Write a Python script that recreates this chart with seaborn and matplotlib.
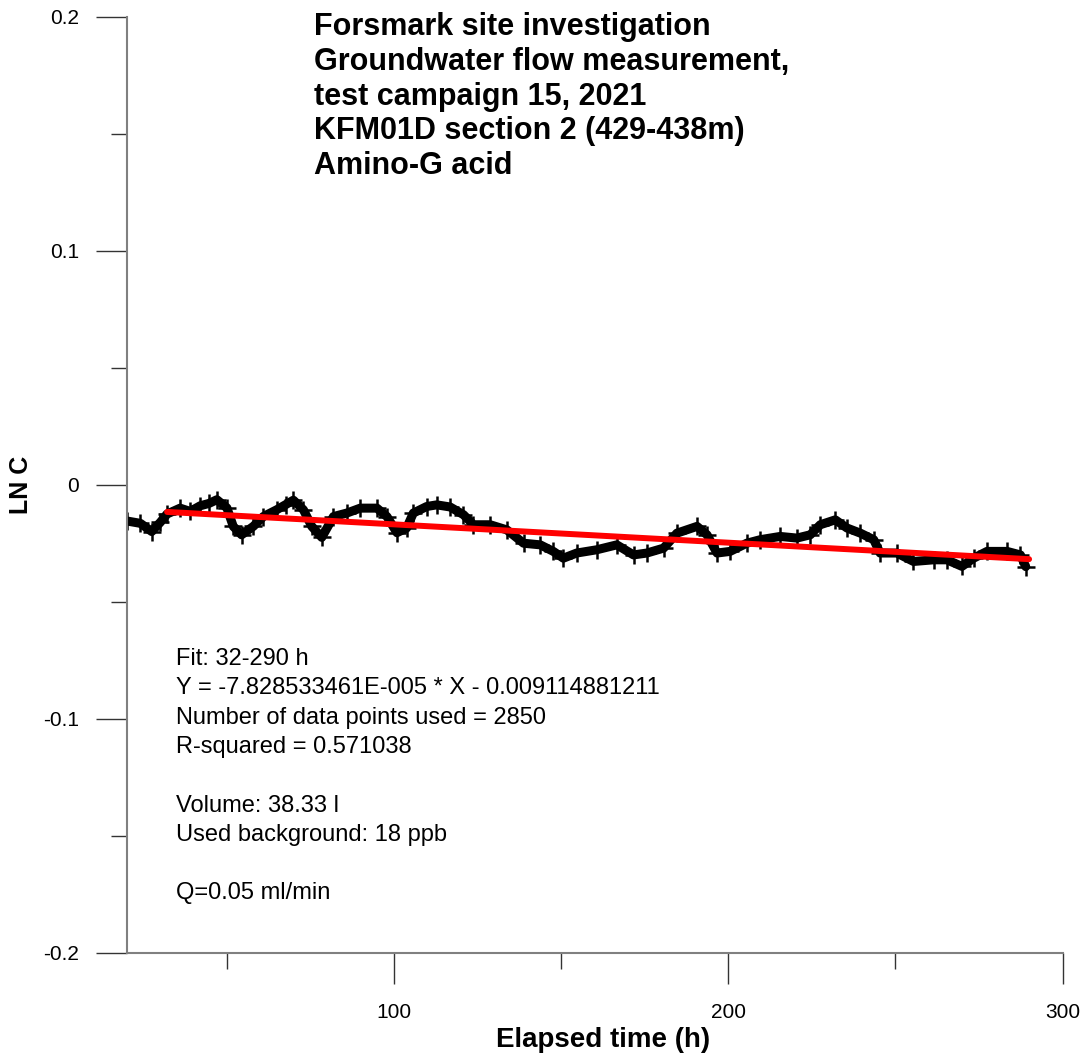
import matplotlib
matplotlib.use("Agg")
import matplotlib.pyplot as plt
import seaborn as sns
import numpy as np
import pandas as pd

# ---- data ----
hours = [20.0, 24.0, 27.4, 30.0, 32.0, 35.9, 38.9, 41.9, 44.5, 46.9, 49.9,
         51.8, 54.3, 57.8, 60.8, 64.8, 67.5, 69.8, 72.8, 75.3, 78.3, 81.8,
         85.8, 89.8, 94.8, 97.8, 100.8, 103.7, 105.7, 109.7, 112.7, 116.7,
         120.7, 123.7, 128.7, 133.7, 138.7, 143.7, 147.6, 150.6, 154.6,
         160.6, 166.6, 171.6, 175.6, 180.6, 184.6, 190.6, 193.6, 196.6,
         200.5, 205.5, 209.5, 215.5, 220.5, 224.5, 227.5, 232.0, 235.5,
         239.5, 243.5, 245.4, 250.4, 255.4, 261.4, 265.4, 269.9, 273.4,
         277.4, 283.4, 287.4, 289.0]
ln_c = [-0.0155, -0.0165, -0.0200, -0.0160, -0.0125, -0.0100, -0.0114,
        -0.0090, -0.0080, -0.0064, -0.0099, -0.0178, -0.0214, -0.0178,
        -0.0136, -0.0107, -0.0085, -0.0066, -0.0107, -0.0178, -0.0225,
        -0.0136, -0.0121, -0.0100, -0.0100, -0.0136, -0.0205, -0.0185,
        -0.0121, -0.0093, -0.0086, -0.0095, -0.0128, -0.0171, -0.0171,
        -0.0193, -0.0250, -0.0257, -0.0285, -0.0314, -0.0292, -0.0278,
        -0.0257, -0.0300, -0.0292, -0.0271, -0.0207, -0.0178, -0.0214,
        -0.0292, -0.0285, -0.0250, -0.0235, -0.0221, -0.0228, -0.0214,
        -0.0171, -0.0150, -0.0185, -0.0207, -0.0235, -0.0292, -0.0292,
        -0.0328, -0.0321, -0.0321, -0.0349, -0.0314, -0.0285, -0.0285,
        -0.0300, -0.0350]

fit_range = [32, 290]
fit_slope = -7.828533461e-05
fit_intercept = -0.009114881211

x_ticks = [100, 200, 300]
x_tick_labels = ["100", "200", "300"]
x_minor = [50, 150, 250]
y_ticks = [-0.2, -0.1, 0.0, 0.1, 0.2]
y_tick_labels = ["-0.2", "-0.1", "0", "0.1", "0.2"]
y_minor = [-0.15, -0.05, 0.05, 0.15]

title_lines = ["Forsmark site investigation",
               "Groundwater flow measurement,",
               "test campaign 15, 2021",
               "KFM01D section 2 (429-438m)",
               "Amino-G acid"]
info_lines = ["Fit: 32-290 h",
              "Y = -7.828533461E-005 * X - 0.009114881211",
              "Number of data points used = 2850",
              "R-squared = 0.571038",
              "",
              "Volume: 38.33 l",
              "Used background: 18 ppb",
              "",
              "Q=0.05 ml/min"]

# ---- figure ----
sns.set_theme(style="white")
plt.rcParams["font.family"] = ["Liberation Sans", "DejaVu Sans"]
plt.rcParams["text.color"] = "black"
plt.rcParams["axes.labelcolor"] = "black"
plt.rcParams["xtick.color"] = "black"
plt.rcParams["ytick.color"] = "black"

fig = plt.figure(figsize=(10.89, 10.59), dpi=100)
ax = fig.add_axes([127/1089, 1 - 952.5/1059, (1062.5 - 127)/1089, (952.5 - 17)/1059])

df = pd.DataFrame({"t": hours, "lnc": ln_c})
sns.lineplot(data=df, x="t", y="lnc", ax=ax, color="black", linewidth=6.5,
             marker="+", markersize=13, markeredgewidth=1.8,
             markeredgecolor="black", zorder=2)

fx = np.array(fit_range, dtype=float)
fdf = pd.DataFrame({"t": fx, "y": fit_slope * fx + fit_intercept})
sns.lineplot(data=fdf, x="t", y="y", ax=ax, color="red", linewidth=4.3,
             zorder=3)

ax.set_xlim(20, 300)
ax.set_ylim(-0.2, 0.2)
ax.set_xticks(x_ticks)
ax.set_xticklabels(x_tick_labels)
ax.set_xticks(x_minor, minor=True)
ax.set_yticks(y_ticks)
ax.set_yticklabels(y_tick_labels)
ax.set_yticks(y_minor, minor=True)

for s in ["top", "right"]:
    ax.spines[s].set_visible(False)
for s in ["left", "bottom"]:
    ax.spines[s].set_color("#808080")
    ax.spines[s].set_linewidth(1.5)

ax.tick_params(axis="both", which="major", direction="out", length=22.3,
               width=1.0, color="#333333", labelsize=15, labelcolor="black",
               bottom=True, left=True)
ax.tick_params(axis="x", which="major", pad=14)
ax.tick_params(axis="y", which="major", pad=12)
ax.tick_params(axis="both", which="minor", direction="out", length=11.5,
               width=1.0, color="#333333", bottom=True, left=True)

ax.set_xlabel("Elapsed time (h)", fontsize=20, fontweight="bold")
ax.set_ylabel("LN C", fontsize=18, fontweight="bold")
ax.xaxis.set_label_coords((603 - 127) / 935.5, (952.5 - 1040) / 935.5)
ax.xaxis.label.set_va("center")
ax.yaxis.set_label_coords((21 - 127) / 935.5, (952.5 - 485) / 935.5)
ax.yaxis.label.set_va("center")
ax.grid(False)

fig.text(314/1089, 1 - 12/1059, "\n".join(title_lines), fontsize=22,
         fontweight="bold", va="top", ha="left", linespacing=1.21)
fig.text(176/1089, 1 - 648/1059, "\n".join(info_lines), fontsize=17,
         va="top", ha="left", linespacing=1.43)

fig.savefig("out.png", dpi=100)
